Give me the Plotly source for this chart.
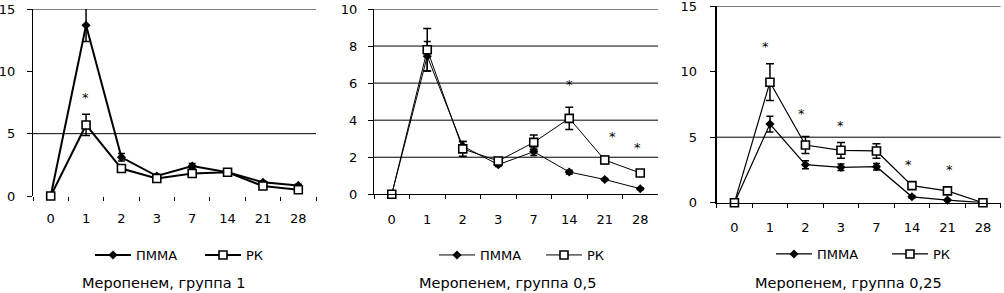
import plotly.graph_objects as go

# ---------------- data ----------------
days = ["0", "1", "2", "3", "7", "14", "21", "28"]
series_names = ["ПММА", "РК"]
panel_titles = ["Меропенем, группа 1", "Меропенем, группа 0,5", "Меропенем, группа 0,25"]

# group 1
pmma_g1 = [0.0, 13.7, 3.1, 1.6, 2.4, 1.9, 1.1, 0.85]
pmma_g1_err_plus = [0, 2.0, 0.3, 0.15, 0.2, 0.1, 0.1, 0.1]
pmma_g1_err_minus = [0, 1.3, 0.3, 0.15, 0.2, 0.1, 0.1, 0.1]
rk_g1 = [0.0, 5.7, 2.2, 1.4, 1.8, 1.9, 0.8, 0.5]
rk_g1_err = [0, 0.85, 0.2, 0.1, 0.15, 0.1, 0.1, 0.1]

# group 0,5
pmma_g05 = [0.0, 7.45, 2.6, 1.6, 2.3, 1.2, 0.8, 0.3]
pmma_g05_err = [0, 0.8, 0.25, 0.1, 0.2, 0.1, 0.05, 0.05]
rk_g05 = [0.0, 7.8, 2.45, 1.8, 2.8, 4.1, 1.85, 1.15]
rk_g05_err = [0, 1.15, 0.4, 0.15, 0.4, 0.6, 0.2, 0.1]

# group 0,25
pmma_g025 = [0.0, 6.0, 2.9, 2.7, 2.75, 0.45, 0.2, 0.0]
pmma_g025_err = [0, 0.6, 0.3, 0.25, 0.25, 0.1, 0.05, 0]
rk_g025 = [0.0, 9.2, 4.4, 4.0, 3.95, 1.3, 0.9, 0.0]
rk_g025_err = [0, 1.4, 0.65, 0.6, 0.55, 0.15, 0.1, 0]

# significance marks (*)
star_g1_days = ["1"]
star_g1_y = [8.0]
star_g05_days = ["14", "21", "28"]
star_g05_y = [6.0, 3.2, 2.6]
star_g025_days = ["1", "2", "3", "14", "21"]
star_g025_y = [12.0, 6.9, 5.95, 3.0, 2.6]

y_max = [15, 10, 15]
y_dtick = [5, 2, 5]

# ---------------- layout geometry (pixels) ----------------
W, H = 1004, 293
FONT = "DejaVu Sans"
geo = [
    dict(x0=33, x1=316, ytop=9, ybot=196, grid=[5, 15], lw=2.0, baseline=False, ylw=1,
         ystand=9, legx=90, legy=255, entry=59, tx=164, star_shift=[-1]),
    dict(x0=374, x1=658, ytop=9, ybot=194.3, grid=[2, 4, 6, 8, 10], lw=1.0, baseline=True, ylw=1,
         ystand=8, legx=434, legy=255, entry=56, tx=507, star_shift=[0, 8, -3]),
    dict(x0=716.7, x1=1000.7, ytop=6.2, ybot=202.7, grid=[5, 15], lw=1.2, baseline=True, ylw=2,
         ystand=10, legx=771, legy=254, entry=65, tx=848, star_shift=[-4, -4, 0, -3, 2]),
]

pmma = [pmma_g1, pmma_g05, pmma_g025]
pmma_ep = [pmma_g1_err_plus, pmma_g05_err, pmma_g025_err]
pmma_em = [pmma_g1_err_minus, pmma_g05_err, pmma_g025_err]
rk = [rk_g1, rk_g05, rk_g025]
rk_e = [rk_g1_err, rk_g05_err, rk_g025_err]
star_days = [star_g1_days, star_g05_days, star_g025_days]
star_y = [star_g1_y, star_g05_y, star_g025_y]

fig = go.Figure()
layout = dict(
    template="none",
    width=W, height=H, autosize=False,
    margin=dict(l=0, r=0, t=0, b=0, pad=0, autoexpand=False),
    paper_bgcolor="white", plot_bgcolor="white",
    font=dict(family=FONT, size=13, color="black"),
    showlegend=True,
)
shapes = []
annotations = []

for i in range(3):
    g = geo[i]
    sfx = "" if i == 0 else str(i + 1)
    xa, ya = "x" + sfx, "y" + sfx
    leg = "legend" + sfx

    fig.add_trace(go.Scatter(
        x=days, y=pmma[i], name=series_names[0], xaxis=xa, yaxis=ya, legend=leg,
        mode="lines+markers",
        line=dict(color="black", width=g["lw"]),
        marker=dict(symbol="diamond", size=7, color="black", line=dict(width=0)),
        error_y=dict(type="data", array=pmma_ep[i], arrayminus=pmma_em[i], symmetric=False,
                     color="black", thickness=1.5, width=3.5),
        cliponaxis=False,
    ))
    fig.add_trace(go.Scatter(
        x=days, y=rk[i], name=series_names[1], xaxis=xa, yaxis=ya, legend=leg,
        mode="lines+markers",
        line=dict(color="black", width=g["lw"]),
        marker=dict(symbol="square", size=8, color="white", line=dict(width=1.6, color="black")),
        error_y=dict(type="data", array=rk_e[i], color="black", thickness=1.5, width=4),
        cliponaxis=False,
    ))

    xd = [g["x0"] / W, g["x1"] / W]
    yd = [1 - g["ybot"] / H, 1 - g["ytop"] / H]
    layout["xaxis" + sfx] = dict(
        domain=xd, anchor=ya, type="category", categoryorder="array", categoryarray=days,
        range=[-0.5, 7.5], tickson="boundaries", ticks="outside", ticklen=4,
        tickcolor="black", tickwidth=1, showgrid=False, zeroline=False,
        showline=g["baseline"], linecolor="black", linewidth=1, automargin=False,
        tickfont=dict(family=FONT, size=13, color="black"), ticklabelstandoff=13,
        ticklabeloverflow="allow",
    )
    layout["yaxis" + sfx] = dict(
        domain=yd, anchor=xa, range=[0, y_max[i]], dtick=y_dtick[i], tick0=0,
        ticks="outside", ticklen=5, tickcolor="black", showgrid=False, zeroline=False,
        showline=True, linecolor="black", linewidth=g["ylw"], automargin=False,
        tickfont=dict(family=FONT, size=13, color="black"), ticklabelstandoff=g["ystand"],
        ticklabeloverflow="allow",
    )
    for gv in g["grid"]:
        shapes.append(dict(type="line", xref=xa + " domain", yref=ya, x0=0, x1=1, y0=gv, y1=gv,
                           line=dict(color="black", width=1), layer="below"))

    layout[leg] = dict(
        x=g["legx"] / W, y=1 - g["legy"] / H, xanchor="left", yanchor="middle",
        orientation="h", bgcolor="rgba(0,0,0,0)", borderwidth=0,
        font=dict(family=FONT, size=13, color="black"), itemwidth=36,
        entrywidth=g["entry"], entrywidthmode="pixels", tracegroupgap=0,
    )
    for d, yv, sh in zip(star_days[i], star_y[i], g["star_shift"]):
        annotations.append(dict(x=days.index(d), y=yv, xref=xa, yref=ya, text="*",
                                showarrow=False, xshift=sh, yshift=-1,
                                font=dict(family=FONT, size=13, color="black")))
    annotations.append(dict(x=g["tx"] / W, y=1 - 283 / H, xref="paper", yref="paper",
                            text=panel_titles[i], showarrow=False, xanchor="center",
                            yanchor="middle", font=dict(family=FONT, size=14.5, color="black")))

layout["shapes"] = shapes
layout["annotations"] = annotations
fig.update_layout(**layout)
fig.write_html(
    "out.html",
    config={"displayModeBar": False},
    post_script="document.body.style.margin='0';document.body.style.padding='0';",
)
